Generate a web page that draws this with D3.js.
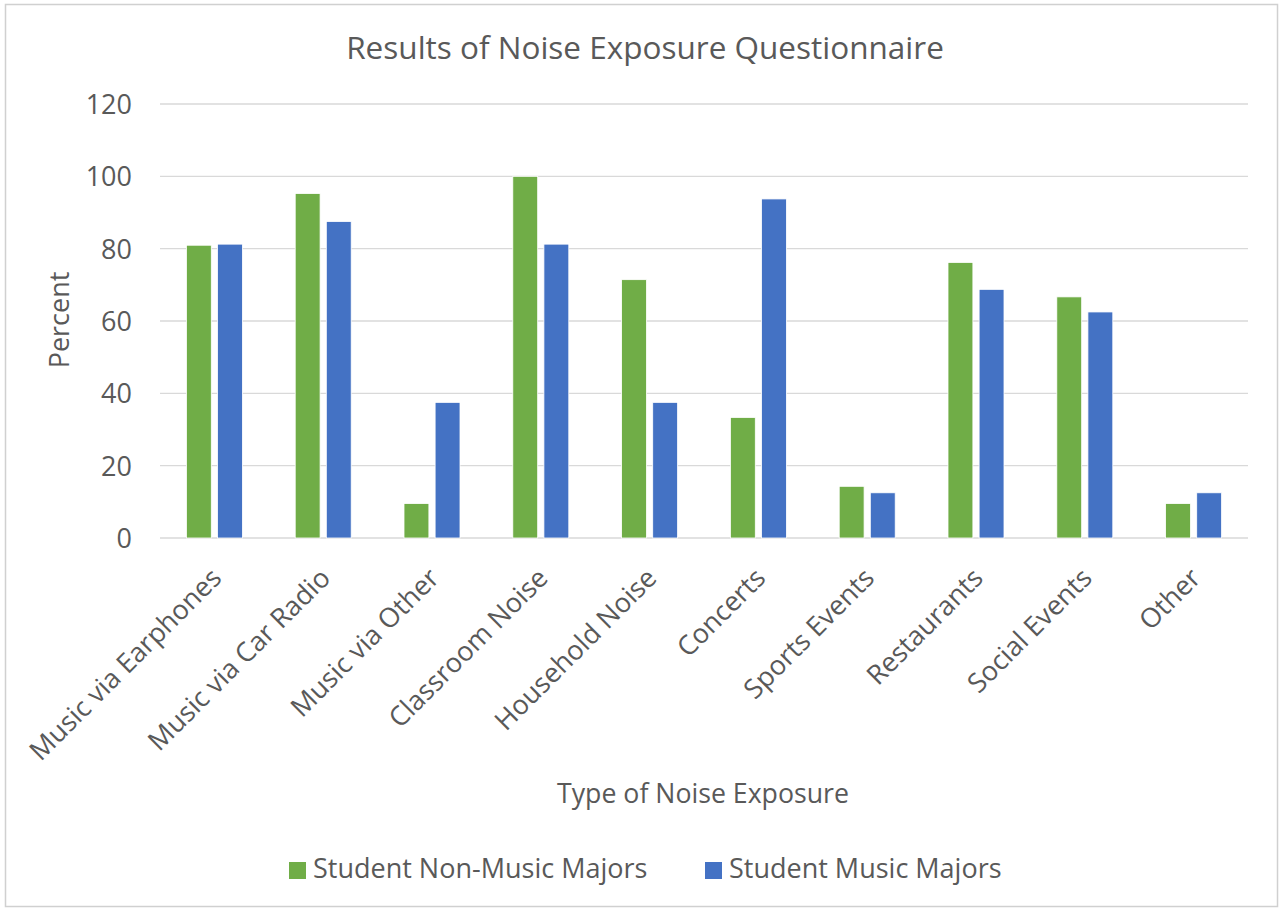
<!DOCTYPE html>
<html><head><meta charset="utf-8">
<script src="https://cdn.jsdelivr.net/npm/d3@7"></script>
<style>body{margin:0;background:#fff;} text{font-family:"Open Sans","Noto Sans",sans-serif;fill:#595959;}</style>
</head><body>
<svg id="c" width="1282" height="909"></svg>
<script>
const categories = ["Music via Earphones","Music via Car Radio","Music via Other","Classroom Noise","Household Noise","Concerts","Sports Events","Restaurants","Social Events","Other"];
const seriesNames = ["Student Non-Music Majors","Student Music Majors"];
const nonMusic = [80.95, 95.24, 9.52, 100, 71.43, 33.33, 14.29, 76.19, 66.67, 9.52];
const music = [81.25, 87.5, 37.5, 81.25, 37.5, 93.75, 12.5, 68.75, 62.5, 12.5];
const yTicks = [0, 20, 40, 60, 80, 100, 120];
const colors = ["#70AD47", "#4472C4"];

const svg = d3.select("#c");
svg.append("rect").attr("x",5.5).attr("y",4.5).attr("width",1272).attr("height",902)
  .attr("fill","#fff").attr("stroke","#d0d0d0").attr("stroke-width",1.5);

const pL = 160, pR = 1248, pT = 104, pB = 538;
const x = d3.scaleBand().domain(categories).range([pL, pR]).paddingInner(0).paddingOuter(0);
const y = d3.scaleLinear().domain([0, 120]).range([pB, pT]);

// gridlines
svg.append("g").selectAll("line").data(yTicks).join("line")
  .attr("x1", pL).attr("x2", pR)
  .attr("y1", d => y(d)).attr("y2", d => y(d))
  .attr("stroke", "#d9d9d9").attr("stroke-width", 1.4);

// y axis labels
const yAxis = d3.axisLeft(y).tickValues(yTicks).tickSize(0).tickPadding(0);
const ya = svg.append("g").attr("transform", `translate(${pL-28},0)`).call(yAxis);
ya.select(".domain").remove();
ya.selectAll("text").style("font-size","27px").attr("fill","#595959").attr("dy","0.35em");

// bars
const groupW = 56;
const inner = d3.scaleBand().domain([0,1]).range([-groupW/2, groupW/2]).paddingInner(0.2);
const data = categories.map((c,i)=>({c, v:[nonMusic[i], music[i]]}));
const g = svg.append("g");
data.forEach(d => {
  d.v.forEach((v, s) => {
    g.append("rect")
      .attr("x", x(d.c) + x.bandwidth()/2 + inner(s))
      .attr("y", y(v))
      .attr("width", inner.bandwidth())
      .attr("height", y(0) - y(v))
      .attr("fill", colors[s])
      .attr("stroke", "#fff").attr("stroke-width", 0.8);
  });
});

// x axis labels
const xAxis = d3.axisBottom(x).tickSize(0).tickPadding(0);
const xa = svg.append("g").attr("transform", `translate(0,${pB})`).call(xAxis);
xa.select(".domain").remove();
xa.selectAll("text").style("font-size","27px").attr("fill","#595959")
  .attr("text-anchor","end").attr("y",null).attr("dy","0.35em")
  .attr("transform","translate(2,35) rotate(-45)");

// titles
svg.append("text").attr("x", 645).attr("y", 59).attr("text-anchor","middle")
  .style("font-size","31.5px").text("Results of Noise Exposure Questionnaire");
svg.append("text").attr("transform","translate(69,320) rotate(-90)").attr("text-anchor","middle")
  .style("font-size","27px").text("Percent");
svg.append("text").attr("x", 703).attr("y", 803).attr("text-anchor","middle")
  .style("font-size","26.7px").text("Type of Noise Exposure");

// legend
const legX = [289, 705];
seriesNames.forEach((n, i) => {
  svg.append("rect").attr("x", legX[i]).attr("y", 862).attr("width", 17).attr("height", 17).attr("fill", colors[i]);
  svg.append("text").attr("x", legX[i] + 24).attr("y", 878).style("font-size","27px").text(n);
});
</script>
</body></html>
